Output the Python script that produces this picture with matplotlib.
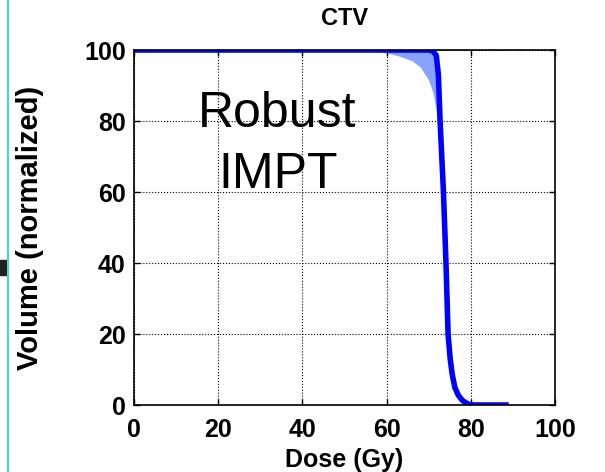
import numpy as np
import matplotlib.pyplot as plt
from matplotlib.patches import Rectangle
from matplotlib.lines import Line2D

plt.rcParams['font.family'] = ['Liberation Sans', 'DejaVu Sans']

# nominal DVH curve (dose in Gy, volume in %)
dose = [0, 70, 71, 71.8, 72.3, 72.7, 73.1, 73.5, 74.1, 74.6, 75.1, 75.6, 76.2, 77.0, 78.0, 79.0, 79.8, 81, 89]
volume = [100, 100, 99.7, 98.5, 93, 80, 70, 60, 40, 20, 13, 8.5, 5, 2.8, 1.3, 0.5, 0.1, 0, 0]

# robustness band (worst/best scenarios)
band_dose = [50, 55, 58, 60, 63, 66, 68, 70, 71, 71.8, 72.4, 73.0, 73.5, 74.0, 74.5, 75.2, 76.2, 78, 80]
band_low = [100, 100, 99.7, 99.2, 98.3, 97, 95.2, 91.5, 88, 83, 76, 64, 52, 38, 20, 11, 4.5, 1, 0]
band_high = [100, 100, 100, 100, 100, 100, 100, 100, 99.9, 99, 94, 78, 63, 44, 25, 14, 6, 1.5, 0.2]

fig = plt.figure(figsize=(6.05, 4.72), dpi=100)
ax = fig.add_axes([0.2215, 0.1419, 0.6959, 0.7521])

ax.fill_between(band_dose, band_low, band_high, color='#86a3ff', lw=0)
ax.plot(dose, volume, color='#0000ff', lw=4, solid_capstyle='butt')

ax.set_xlim(0, 100)
ax.set_ylim(0, 100)
ax.set_xticks([0, 20, 40, 60, 80, 100])
ax.set_yticks([0, 20, 40, 60, 80, 100])
ax.grid(True, color='black', linestyle=':', linewidth=0.8)
ax.tick_params(direction='in', length=4, width=1, top=True, right=True,
               labelsize=18, pad=6)
ax.tick_params(axis='x', pad=9)
for lab in ax.get_xticklabels() + ax.get_yticklabels():
    lab.set_fontweight('bold')
for s in ax.spines.values():
    s.set_linewidth(1.2)

ax.set_title('CTV', fontsize=17, fontweight='bold', pad=18)
ax.set_xlabel('Dose (Gy)', fontsize=18, fontweight='bold', labelpad=5)
ax.set_ylabel('Volume (normalized)', fontsize=21, fontweight='bold', labelpad=29)

ax.text(34, 78.3, 'Robust', fontsize=36, ha='center', va='baseline')
ax.text(34.3, 61.1, 'IMPT', fontsize=36, ha='center', va='baseline')

# slide artefacts on the left edge
fig.add_artist(Line2D([8 / 605, 8 / 605], [0, 1], color='#40e0c0', lw=1.5))
fig.add_artist(Rectangle((0, 1 - 275 / 472), 7 / 605, 15 / 472, color='#222222'))

fig.savefig('out.png', dpi=100)
